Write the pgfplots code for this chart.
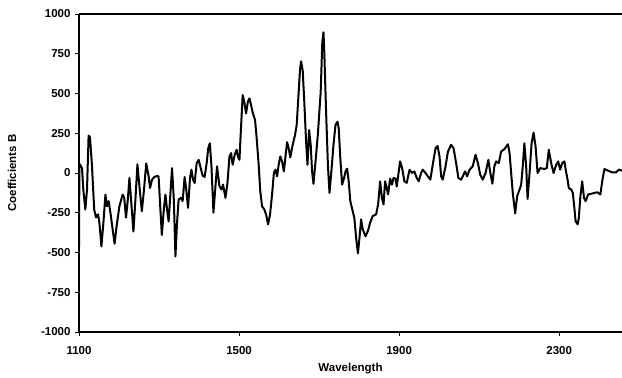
\documentclass[border=0pt]{standalone}
\usepackage{fontspec}
\setmainfont{Liberation Sans}
\usepackage{pgfplots}
\pgfplotsset{compat=1.18}
\begin{document}
\begin{tikzpicture}
\begin{axis}[
  scale only axis,
  width=543pt, height=318pt,
  xmin=1100, xmax=2457,
  ymin=-1000, ymax=1000,
  axis lines=left,
  axis line style={-, line width=1.4pt, black},
  xtick={1100,1500,1900,2300},
  ytick={-1000,-750,-500,-250,0,250,500,750,1000},
  tick align=outside,
  major tick length=4pt,
  tick style={black, line width=0.8pt},
  /pgf/number format/assume math mode=true,
  /pgf/number format/1000 sep={},
  ticklabel style={font=\fontsize{11.5}{13}\selectfont\bfseries},
  yticklabel style={xshift=-1pt},
  xticklabel style={yshift=-7pt},
  xlabel={Wavelength},
  ylabel={Coefficients B},
  label style={font=\fontsize{11.5}{13}\selectfont\bfseries},
  xlabel style={at={(rel axis cs:0.5,0)}, anchor=center, yshift=-37pt},
  ylabel style={at={(rel axis cs:0,0.5)}, anchor=center, rotate=0, yshift=67pt},
  clip=true,
]
\addplot[black, line width=2pt, line join=round, line cap=round] coordinates {
(1100,-460) (1101,55) (1103,52) (1107.5,30) (1110.8,-105) (1115.8,-230) (1120,-105) (1124,235) (1127.5,225)
(1132.5,42) (1138,-230) (1142.5,-280) (1147.5,-260) (1151,-312) (1156,-462) (1161,-312) (1166,-136)
(1170,-209) (1174,-177) (1178,-240) (1184,-354) (1189,-445) (1194,-333) (1201,-209) (1209,-136)
(1213,-156) (1217.5,-281) (1222,-167) (1226,-31) (1231,-198) (1236,-368) (1241,-167) (1246,55)
(1251,-84) (1257,-240) (1262.5,-104) (1268,60) (1274,-21) (1277.5,-94) (1282.5,-42) (1288,-25)
(1297,-17) (1299,-25) (1302.5,-188) (1307,-390) (1312,-229) (1316,-136) (1320,-229) (1324,-305)
(1328,-146) (1332.5,31) (1337,-167) (1341,-525) (1345,-313) (1349,-167) (1355,-156) (1359,-177)
(1364,-25) (1368,-104) (1372.5,-219) (1377.5,-31) (1381,21) (1385,-42) (1389,-63) (1394,62)
(1399,83) (1403,42) (1409,-17) (1414,-25) (1419,62) (1423,156) (1427,187) (1431,42) (1436,-250)
(1441,-83) (1445,42) (1451,-83) (1456,-104) (1460,-73) (1466,-156) (1471,-63) (1476,104) (1480,125)
(1484,52) (1489,115) (1494,146) (1497,104) (1501,83) (1504,240) (1509,490) (1513,448) (1517.5,375)
(1522,448) (1526,469) (1530,427) (1534,381) (1540,333) (1544,219) (1549,52) (1553,-115)
(1557.5,-209) (1563,-229) (1567.5,-260) (1572.5,-323) (1577.5,-260) (1582.5,-135) (1587,0)
(1591,21) (1595,-21) (1599,52) (1603,104) (1607.5,73) (1612,10) (1616,104) (1620,194) (1624,156)
(1628,98) (1634,177) (1640,240) (1644,302) (1648,469) (1652.5,656) (1655,702) (1659,646)
(1663,448) (1667.5,198) (1671,52) (1675,270) (1679,177) (1682.5,10) (1686,-68) (1691,70)
(1697,245) (1704,510) (1708,823) (1711,885) (1713,760) (1717.5,385) (1722,52) (1726,-125)
(1730,-10) (1736,177) (1741,302) (1746,323) (1749,281) (1753,94) (1757.5,-73) (1762.5,-31)
(1766,10) (1770,27) (1774,-52) (1778,-177) (1784,-240) (1788,-281) (1792.5,-406) (1797,-506)
(1801,-406) (1805,-292) (1809,-354) (1816,-398) (1822,-365) (1827.5,-313) (1834,-271)
(1842.5,-260) (1847.5,-198) (1852.5,-52) (1857,-156) (1861,-198) (1865,-52) (1869,-94)
(1872.5,-135) (1877.5,-35) (1882,-73) (1886,-31) (1891,-35) (1894,-85) (1902.5,73) (1907.5,31)
(1913,-52) (1919,-62) (1926,21) (1932,0) (1938,10) (1944,-31) (1949,-52) (1955,0) (1959,21)
(1966,0) (1972,-21) (1978,-42) (1984,52) (1991,156) (1996,170) (2001,104) (2005,-21) (2009,-42)
(2016,42) (2022,135) (2030,177) (2036,156) (2042.5,62) (2048,-31) (2055,-42) (2061,-10) (2065,10)
(2070,-21) (2076,21) (2084,42) (2091,115) (2097,62) (2102.5,-10) (2109,-42) (2116,0) (2123,83)
(2128,0) (2133,-67) (2138,42) (2142.5,73) (2149,62) (2155,135) (2163,150) (2172,181) (2176,125)
(2180,0) (2184,-125) (2190,-254) (2195,-146) (2201,-104) (2205,-73) (2209,42) (2213,187)
(2217.5,42) (2221,-163) (2226,0) (2231,187) (2236,254) (2241,167) (2246,0) (2252.5,31) (2263,25)
(2269,31) (2274,146) (2280,62) (2286,0) (2292.5,52) (2297.5,73) (2302.5,21) (2307.5,62) (2313,73)
(2317,10) (2321,-42) (2324,-94) (2330,-104) (2334,-125) (2337.5,-208) (2341,-302) (2346,-323)
(2349,-285) (2353,-146) (2357.5,-52) (2362,-156) (2366,-177) (2372.5,-135) (2382.5,-129)
(2395,-121) (2403,-135) (2407.5,-52) (2413,25) (2420,17) (2432.5,4) (2442.5,4) (2449,21) (2457,15)
};
\end{axis}
\draw[line width=1.4pt, black] (current axis.north west) -- (current axis.north east);
\pgfresetboundingbox
\path[use as bounding box] ([xshift=-79pt,yshift=-45pt]current axis.south west) rectangle ([yshift=14pt]current axis.north east);
\end{tikzpicture}
\end{document}
